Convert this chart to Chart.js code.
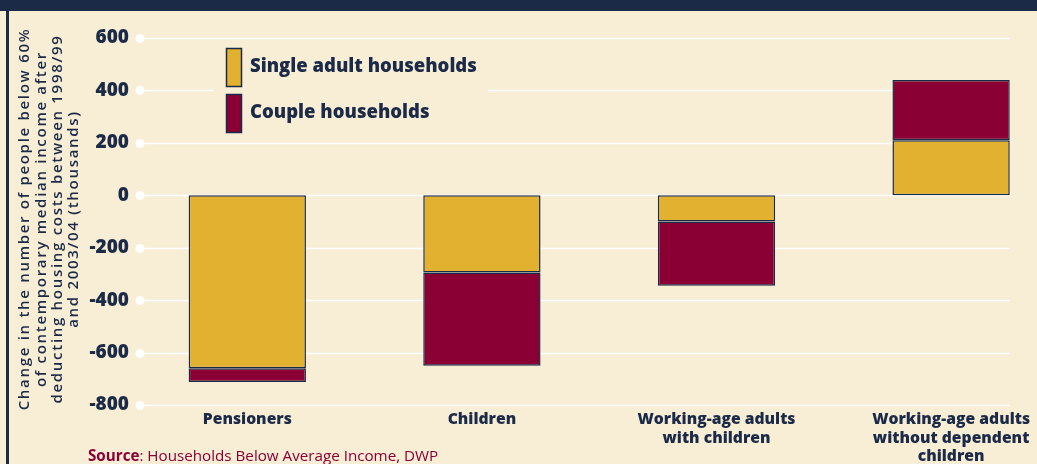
<!DOCTYPE html>
<html>
<head>
<meta charset="utf-8">
<script src="https://cdn.jsdelivr.net/npm/chart.js@4.4.0/dist/chart.umd.min.js"></script>
<style>
  html, body { margin: 0; padding: 0; overflow: hidden; background: #f8eed6; }
  #wrap { position: absolute; left: 0; top: 0; width: 1090px; height: 464px; }
  #topband { position: absolute; left: 0; top: 0; width: 1037px; height: 11px; background: #1b2a47; }
  #leftline { position: absolute; left: 6px; top: 11px; width: 3px; height: 453px; background: #1b2a47; }
</style>
</head>
<body>
<div id="topband"></div>
<div id="leftline"></div>
<div id="wrap"><canvas id="chart"></canvas></div>
<script>
const categories = ['Pensioners', 'Children', ['Working-age adults', 'with children'], ['Working-age adults', 'without dependent', 'children']];
const singleAdult = [-660, -295, -100, 210];
const couple = [-52, -355, -245, 230];
const yTicks = [600, 400, 200, 0, -200, -400, -600, -800];

const navy = '#1b2a47';
const gold = '#e2b130';
const maroon = '#8a0034';
const cream = '#f8eed6';

// white grid lines with a dot at the left end, stopping at 1010
const gridPlugin = {
    id: 'gridDots',
    beforeDatasetsDraw(chart) {
        const ctx = chart.ctx;
        const y = chart.scales.y;
        ctx.save();
        ctx.strokeStyle = '#ffffff';
        ctx.fillStyle = '#ffffff';
        ctx.lineWidth = 1.6;
        yTicks.forEach(t => {
            const py = Math.round(y.getPixelForValue(t)) + 0.5;
            ctx.beginPath();
            ctx.moveTo(140, py);
            ctx.lineTo(1010, py);
            ctx.stroke();
            ctx.beginPath();
            ctx.arc(140, py, 4.5, 0, Math.PI * 2);
            ctx.fill();
        });
        // legend panel
        ctx.fillStyle = cream;
        ctx.fillRect(213, 44, 275, 94);
        const items = chart.data.datasets;
        items.forEach((ds, i) => {
            const top = 48 + i * 46;
            ctx.fillStyle = ds.backgroundColor;
            ctx.fillRect(226, top, 15, 38);
            ctx.strokeStyle = navy;
            ctx.lineWidth = 1.5;
            ctx.strokeRect(226.5, top + 0.5, 15, 38);
            ctx.fillStyle = navy;
            ctx.font = '800 18.5px "Open Sans"';
            ctx.textBaseline = 'middle';
            ctx.textAlign = 'left';
            ctx.fillText(ds.label, 250, top + 19);
        });
        ctx.restore();
    },
    afterDraw(chart) {
        const ctx = chart.ctx;
        ctx.save();
        // y axis title
        const lines = ['Change in the number of people below 60%', 'of contemporary median income after',
            'deducting housing costs between 1998/99', 'and 2003/04 (thousands)'];
        ctx.translate(0, 219);
        ctx.rotate(-Math.PI / 2);
        ctx.fillStyle = navy;
        ctx.font = '600 15px "Open Sans"';
        ctx.letterSpacing = '1.7px';
        ctx.textAlign = 'center';
        ctx.textBaseline = 'middle';
        lines.forEach((l, i) => ctx.fillText(l, 0, 25 + i * 16.3));
        ctx.restore();

        // source
        ctx.save();
        ctx.font = 'bold 15.2px "Open Sans"';
        ctx.fillStyle = '#8a0034';
        ctx.textBaseline = 'alphabetic';
        ctx.fillText('Source', 88, 461);
        const w = ctx.measureText('Source').width;
        ctx.font = '15.2px "Open Sans"';
        ctx.fillText(': Households Below Average Income, DWP', 88 + w, 461);
        ctx.restore();
    }
};

new Chart(document.getElementById('chart'), {
    type: 'bar',
    data: {
        labels: categories,
        datasets: [{
            label: 'Single adult households',
            data: singleAdult,
            backgroundColor: gold,
            borderColor: navy,
            borderWidth: 1.5,
            borderSkipped: false,
            categoryPercentage: 1,
            barPercentage: 0.5
        }, {
            label: 'Couple households',
            data: couple,
            backgroundColor: maroon,
            borderColor: navy,
            borderWidth: 1.5,
            borderSkipped: false,
            categoryPercentage: 1,
            barPercentage: 0.5
        }]
    },
    options: {
        responsive: true,
        maintainAspectRatio: false,
        animation: false,
        layout: { padding: { left: 0, right: 21.6, top: 38, bottom: 0 } },
        plugins: {
            legend: { display: false },
            tooltip: { enabled: false }
        },
        scales: {
            x: {
                stacked: true,
                offset: true,
                grid: { display: false, drawTicks: false },
                border: { display: false },
                ticks: {
                    color: navy,
                    font: { family: 'Open Sans', weight: 800, size: 15.7, lineHeight: 1.19 },
                    padding: 5,
                    maxRotation: 0,
                    autoSkip: false
                },
                afterFit(s) { s.height = 59; }
            },
            y: {
                stacked: true,
                min: -800,
                max: 600,
                grid: { display: false, drawTicks: false },
                border: { display: false },
                ticks: {
                    stepSize: 200,
                    color: navy,
                    padding: 1,
                    font: { family: 'Open Sans', weight: 800, size: 19 }
                },
                afterFit(s) { s.width = 130; }
            }
        }
    },
    plugins: [gridPlugin]
});
</script>
</body>
</html>
